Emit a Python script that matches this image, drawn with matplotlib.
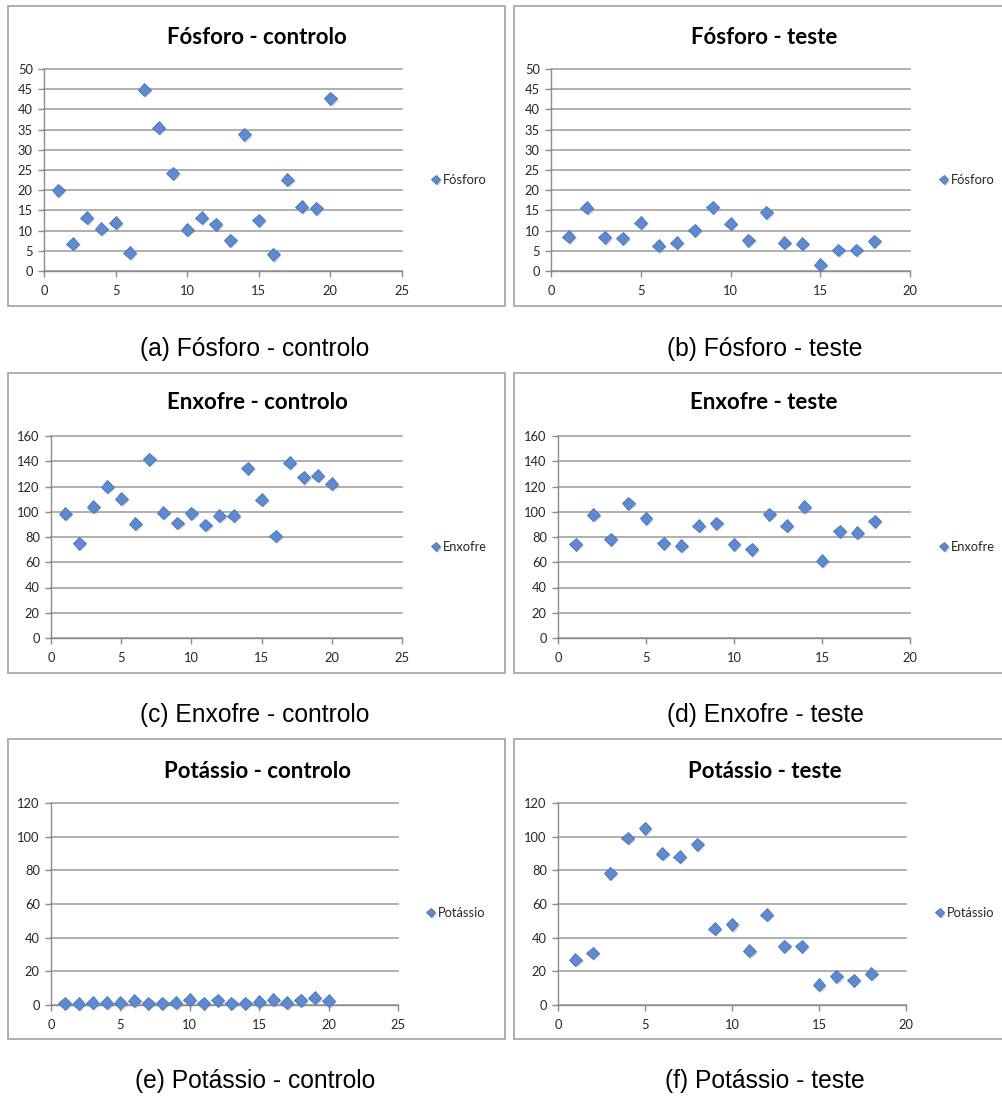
import numpy as np
import matplotlib
matplotlib.use('Agg')
import matplotlib.pyplot as plt
import matplotlib.patheffects as pe
from matplotlib.patches import Rectangle

plt.rcParams['font.family'] = ['Lato', 'DejaVu Sans']

# valores
fosforo_controlo = [20.0, 6.8, 13.2, 10.5, 11.9, 4.5, 44.9, 35.5, 24.2, 10.2,
                    13.2, 11.6, 7.6, 33.8, 12.6, 4.1, 22.6, 15.9, 15.5, 42.7]
fosforo_teste = [8.5, 15.6, 8.3, 8.1, 12.0, 6.3, 7.0, 10.1, 15.8, 11.7,
                 7.6, 14.5, 7.0, 6.8, 1.5, 5.2, 5.2, 7.4]
enxofre_controlo = [98.5, 75.0, 103.8, 119.7, 110.2, 90.6, 141.7, 99.3, 91.1, 98.8,
                    89.5, 96.7, 97.0, 134.6, 109.7, 80.8, 138.8, 127.2, 128.7, 122.1]
enxofre_teste = [74.4, 97.5, 78.4, 106.8, 94.8, 75.2, 73.1, 89.0, 90.9, 74.2,
                 70.2, 98.0, 89.0, 103.8, 61.2, 84.5, 83.2, 92.4]
potassio_controlo = [1.0, 0.8, 1.2, 1.2, 1.2, 2.6, 1.0, 1.0, 1.2, 3.2,
                     1.0, 2.8, 1.0, 1.0, 1.8, 3.2, 1.4, 2.8, 4.2, 2.6]
potassio_teste = [26.9, 30.9, 78.4, 99.2, 105.1, 89.9, 88.1, 95.4, 45.3, 47.9,
                  32.1, 53.7, 34.9, 34.9, 11.9, 17.0, 14.7, 18.6]

titulos = ['Fósforo - controlo', 'Fósforo - teste',
           'Enxofre - controlo', 'Enxofre - teste',
           'Potássio - controlo', 'Potássio - teste']
legendas = ['Fósforo', 'Fósforo', 'Enxofre', 'Enxofre', 'Potássio', 'Potássio']
legendas_fig = ['(a) Fósforo - controlo', '(b) Fósforo - teste',
                '(c) Enxofre - controlo', '(d) Enxofre - teste',
                '(e) Potássio - controlo', '(f) Potássio - teste']
series = [fosforo_controlo, fosforo_teste, enxofre_controlo,
          enxofre_teste, potassio_controlo, potassio_teste]
y_max = [50, 50, 160, 160, 120, 120]
y_step = [5, 5, 20, 20, 20, 20]
x_max = [25, 20, 25, 20, 25, 20]

W, H = 1003, 1097
fig = plt.figure(figsize=(W / 100, H / 100), dpi=100)

# caixas dos gráficos (px): esquerda, topo, direita, baixo
caixas = [(8, 6, 505, 306), (514, 6, 1012, 306),
          (8, 373, 505, 673), (514, 373, 1012, 673),
          (8, 739, 505, 1039), (514, 739, 1012, 1039)]
eixos = [(44, 69, 402, 271), (551, 69, 910, 271),
         (51, 436, 402, 638), (558, 436, 910, 638),
         (51, 803, 398, 1005), (558, 803, 906, 1005)]
titulo_pos = [(257, 37), (764, 37), (257, 403), (764, 403), (257, 771), (765, 771)]
legenda_pos = [(432, 180), (940, 180), (432, 547), (940, 547), (427, 913), (936, 913)]
legenda_fig_pos = [(255, 356), (765, 356), (255, 722), (765, 722), (255, 1088), (765, 1088)]

cor_grelha = '#a2a2a2'
cor_marcador = '#5b8bd5'

for i in range(6):
    l, t, r, b = caixas[i]
    fig.add_artist(Rectangle((l / W, 1 - b / H), (r - l) / W, (b - t) / H,
                             transform=fig.transFigure, facecolor='white',
                             edgecolor='#a8a8a8', lw=1.3, zorder=-1))

    l, t, r, b = eixos[i]
    ax = fig.add_axes([l / W, 1 - b / H, (r - l) / W, (b - t) / H])
    ax.set_facecolor('none')

    y = series[i]
    x = np.arange(1, len(y) + 1)
    ax.plot(x, y, 'D', ms=6.6, mfc=cor_marcador, mec='#4874b8', mew=0.6,
            clip_on=False, label=legendas[i], zorder=3,
            path_effects=[pe.SimplePatchShadow(offset=(1.2, -1.2), shadow_rgbFace='#808080', alpha=0.35),
                          pe.Normal()])

    ax.set_xlim(0, x_max[i])
    ax.set_ylim(0, y_max[i])
    ax.set_xticks(np.arange(0, x_max[i] + 1, 5))
    ax.set_yticks(np.arange(0, y_max[i] + 1, y_step[i]))
    ax.yaxis.grid(True, color=cor_grelha, lw=1.2)
    ax.set_axisbelow(True)
    for g in ax.get_ygridlines():
        g.set_clip_on(False)
    for s in ['top', 'right']:
        ax.spines[s].set_visible(False)
    for s in ['left', 'bottom']:
        ax.spines[s].set_color('#8c8c8c')
        ax.spines[s].set_linewidth(1.0)
    ax.tick_params(direction='out', length=4, width=1, color='#8c8c8c',
                   labelsize=9.3, labelcolor='#262626', pad=4)
    ax.tick_params(axis='x', pad=6)

    tx, ty = titulo_pos[i]
    fig.text(tx / W, 1 - ty / H, titulos[i], ha='center', va='center',
             fontsize=16, fontweight='bold', color='black')

    lx, ly = legenda_pos[i]
    ax.legend(loc='center left', bbox_to_anchor=(lx / W, 1 - ly / H),
              bbox_transform=fig.transFigure, frameon=False, markerscale=0.7,
              handlelength=0.6, handletextpad=0.25, borderpad=0, borderaxespad=0,
              fontsize=9.3, labelcolor='#262626')

    cx, cy = legenda_fig_pos[i]
    fig.text(cx / W, 1 - cy / H, legendas_fig[i], ha='center', va='baseline',
             fontsize=17.7, family='Liberation Sans', color='black')

fig.savefig('out.png', dpi=100)
